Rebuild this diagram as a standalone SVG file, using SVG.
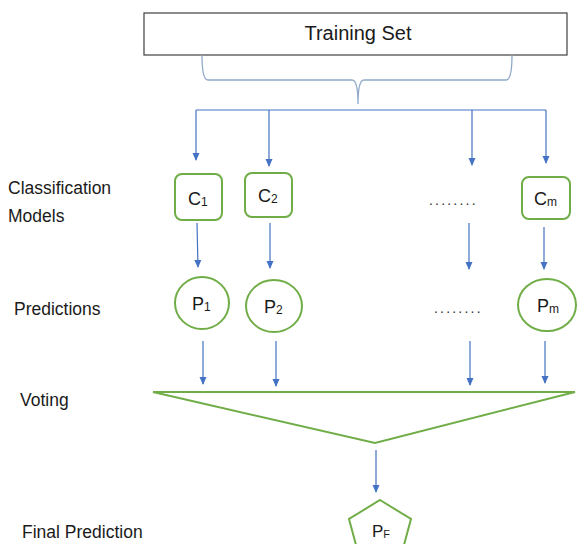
<svg xmlns="http://www.w3.org/2000/svg" width="577" height="544" viewBox="0 0 577 544">
<defs>
<marker id="ah" markerWidth="8" markerHeight="8" viewBox="0 0 8 8" refX="7" refY="4" orient="auto" markerUnits="userSpaceOnUse">
<path d="M0,0.5 L8,4 L0,7.5 Z" fill="#4472C4"/>
</marker>
<style>
.t{font-family:"Liberation Sans",Arial,sans-serif;fill:#1a1a1a}
.lbl{font-size:17.5px}
.n{font-size:18px}
.sub{font-size:12px}
.g{fill:#fff;stroke:#70AD47;stroke-width:2}
.a{stroke:#4472C4;stroke-width:1.2;fill:none;marker-end:url(#ah)}
.ln{stroke:#4472C4;stroke-width:1.2;fill:none}
.dots{font-size:14px;letter-spacing:2.2px;fill:#333}
</style>
</defs>
<rect width="577" height="544" fill="#fff"/>

<g id="training-set">
<rect x="144" y="13" width="423" height="42" fill="#fff" stroke="#404040" stroke-width="1.2"/>
<text class="t" x="358" y="40" font-size="20" text-anchor="middle">Training Set</text>
</g>

<g id="brace">
<path d="M202,55 Q202,80 208,80 L352,80 Q358,80 358,104 Q358,80 364,80 L506,80 Q512,80 512,55" fill="none" stroke="#8EA9C8" stroke-width="1.3"/>
</g>

<g id="labels">
<text class="t lbl" x="8" y="194">Classification</text>
<text class="t lbl" x="8" y="222">Models</text>
<text class="t lbl" x="14" y="315">Predictions</text>
<text class="t lbl" x="20" y="406">Voting</text>
<text class="t lbl" x="22" y="538">Final Prediction</text>
</g>

<g id="c1">
<rect class="g" x="175" y="174" width="47" height="46" rx="7"/>
<text class="t n" x="188" y="205">C<tspan class="sub" dy="1">1</tspan></text>
</g>
<g id="c2">
<rect class="g" x="245" y="173" width="47" height="44" rx="7"/>
<text class="t n" x="258" y="202">C<tspan class="sub" dy="1">2</tspan></text>
</g>
<g id="c-dots">
<text class="t dots" x="429" y="205">........</text>
</g>
<g id="cm">
<rect class="g" x="522" y="177" width="48" height="42" rx="7"/>
<text class="t n" x="534" y="205">C<tspan class="sub" dy="1">m</tspan></text>
</g>

<g id="p1">
<ellipse class="g" cx="202" cy="303" rx="27" ry="26"/>
<text class="t n" x="192" y="310">P<tspan class="sub" dy="1">1</tspan></text>
</g>
<g id="p2">
<ellipse class="g" cx="274" cy="306" rx="28" ry="26"/>
<text class="t n" x="264" y="313">P<tspan class="sub" dy="1">2</tspan></text>
</g>
<g id="p-dots">
<text class="t dots" x="434" y="313">........</text>
</g>
<g id="pm">
<ellipse class="g" cx="547" cy="305" rx="29" ry="26"/>
<text class="t n" x="537" y="312">P<tspan class="sub" dy="1">m</tspan></text>
</g>

<g id="voting">
<polygon class="g" points="153,392 575,392 375,443"/>
</g>

<g id="pf">
<polygon class="g" points="380,500 411,519 401,556 359,556 349,519"/>
<text class="t" x="372" y="537" font-size="17">P<tspan font-size="11" dy="1">F</tspan></text>
</g>

<g id="connectors">
<path class="ln" d="M196,110 L546,110"/>
<path class="a" d="M196,110 L196,160"/>
<path class="a" d="M269,110 L269,166"/>
<path class="a" d="M472,110 L472,165"/>
<path class="a" d="M546,110 L546,163"/>
<path class="a" d="M197,223 L198,267"/>
<path class="a" d="M270,223 L270,268"/>
<path class="a" d="M469,223 L469,269"/>
<path class="a" d="M544,227 L544,269"/>
<path class="a" d="M203,341 L203,384"/>
<path class="a" d="M276,341 L276,386"/>
<path class="a" d="M470,341 L470,385"/>
<path class="a" d="M545,341 L545,383"/>
<path class="a" d="M376,450 L376,492"/>
</g>
</svg>
